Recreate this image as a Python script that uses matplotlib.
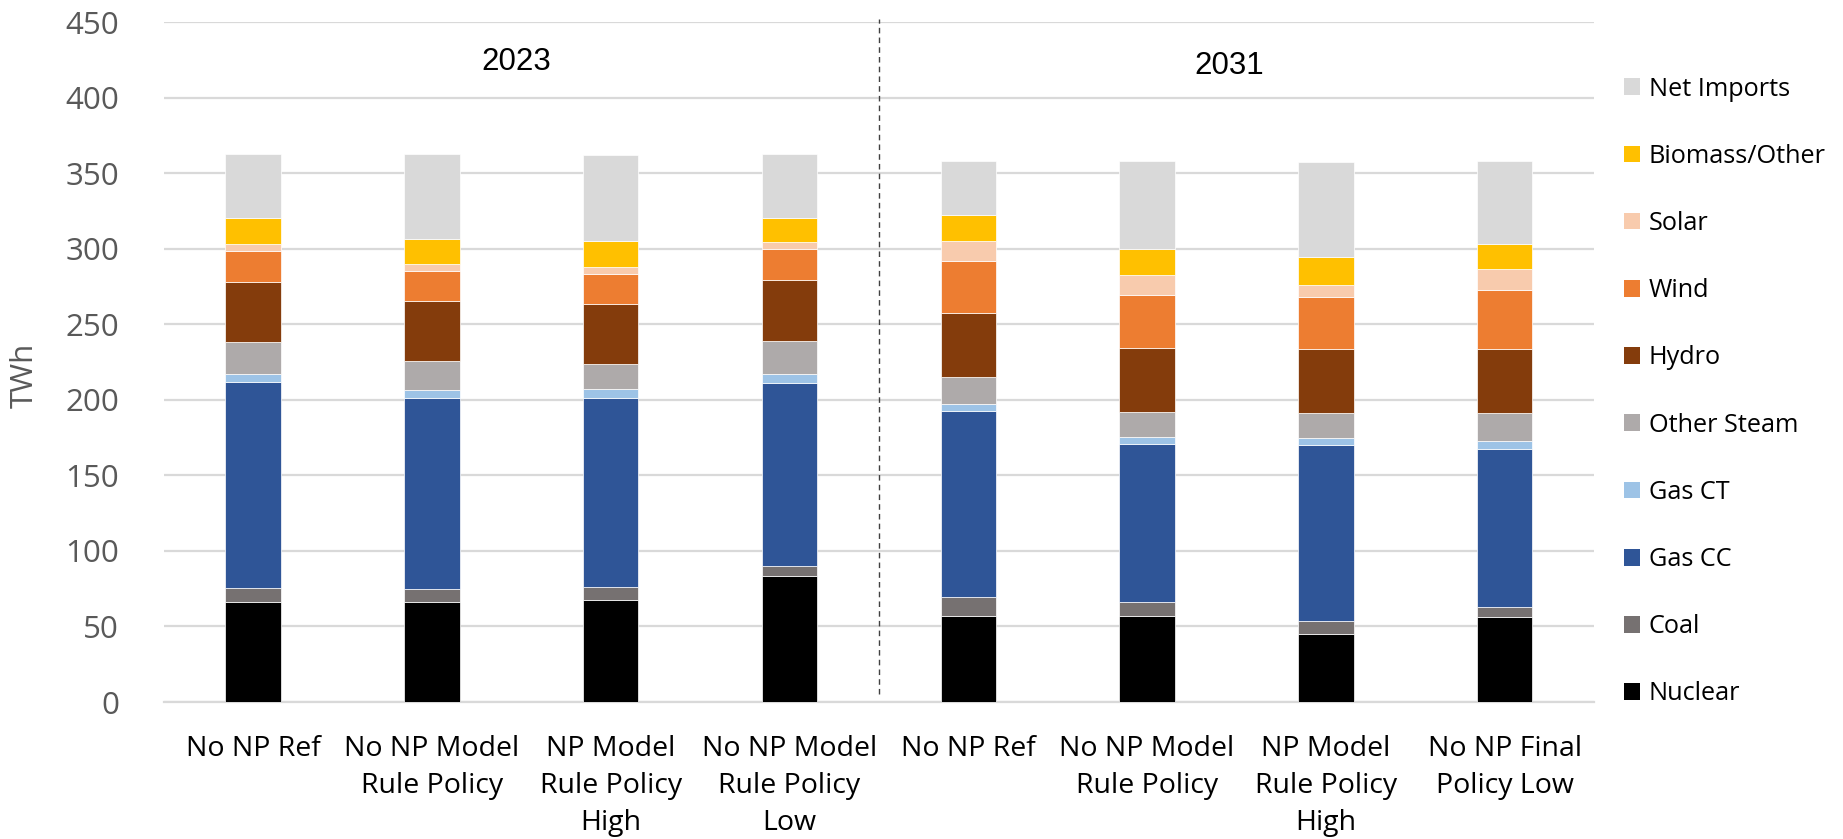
import matplotlib
matplotlib.use("Agg")
import matplotlib.pyplot as plt
from matplotlib.patches import Patch
import numpy as np

# Scenario categories (x axis)
categories = [
    "No NP Ref", "No NP Model\nRule Policy", "NP Model\nRule Policy\nHigh",
    "No NP Model\nRule Policy\nLow",
    "No NP Ref", "No NP Model\nRule Policy", "NP Model\nRule Policy\nHigh",
    "No NP Final\nPolicy Low",
]
year_labels = ["2023", "2031"]

# Generation by resource (TWh), stacked bottom to top
nuclear      = [66.4, 66.4, 67.3, 83.6, 57.1, 57.1, 44.8, 56.5]
coal         = [9.0, 8.4, 8.8, 6.4, 12.6, 8.9, 8.6, 6.6]
gas_cc       = [136.2, 126.6, 125.3, 121.1, 122.9, 104.7, 116.7, 104.5]
gas_ct       = [5.3, 5.1, 5.7, 5.8, 4.6, 4.5, 4.6, 5.1]
other_steam  = [21.5, 19.2, 16.8, 22.0, 17.7, 16.7, 16.6, 18.6]
hydro        = [39.8, 39.7, 39.3, 40.2, 42.5, 42.6, 42.3, 42.5]
wind         = [20.4, 19.6, 20.1, 20.5, 34.4, 34.8, 34.4, 38.9]
solar        = [4.6, 4.9, 4.8, 4.8, 13.5, 13.3, 7.8, 13.8]
biomass      = [16.8, 16.5, 16.8, 16.1, 17.0, 17.2, 19.0, 16.6]
net_imports  = [42.8, 56.0, 57.1, 42.2, 35.5, 58.2, 62.4, 54.9]

series_names = ["Nuclear", "Coal", "Gas CC", "Gas CT", "Other Steam", "Hydro",
                "Wind", "Solar", "Biomass/Other", "Net Imports"]
series_values = [nuclear, coal, gas_cc, gas_ct, other_steam, hydro,
                 wind, solar, biomass, net_imports]
series_colors = ["#000000", "#767171", "#2F5597", "#9DC3E6", "#AEAAAA",
                 "#843C0C", "#ED7D31", "#F8CBAD", "#FFC000", "#D9D9D9"]

W, H = 1843, 839
fig = plt.figure(figsize=(W / 100, H / 100), dpi=100)
ax = fig.add_axes([163.7 / W, 1 - 702 / H, (1594 - 163.7) / W, (702 - 22) / H])

x = np.arange(len(categories))
bottom = np.zeros(len(categories))
for name, vals, col in zip(series_names, series_values, series_colors):
    vals = np.array(vals)
    ax.bar(x, vals, width=0.31, bottom=bottom, color=col, label=name,
           edgecolor="white", linewidth=0.5, zorder=3)
    bottom += vals

ax.set_xlim(-0.5, len(categories) - 0.5)
ax.set_ylim(0, 450)
ax.set_yticks(np.arange(0, 451, 50))
ax.yaxis.grid(True, color="#D9D9D9", linewidth=1.6, zorder=0)
ax.set_axisbelow(True)
for side in ["top", "right", "left"]:
    ax.spines[side].set_visible(False)
ax.spines["bottom"].set_color("#D9D9D9")
ax.spines["bottom"].set_linewidth(1.6)
ax.tick_params(axis="both", length=0)
ax.tick_params(axis="y", pad=32, labelsize=22.5, labelcolor="#595959")
ax.set_yticklabels([str(v) for v in range(0, 451, 50)], fontfamily="Open Sans")
ax.set_xticks(x)
ax.set_xticklabels(categories, fontfamily="Open Sans", fontsize=20.5,
                   linespacing=1.42, color="black")
ax.tick_params(axis="x", pad=24)

fig.text(25 / W, 1 - 375 / H, "TWh", rotation=90, ha="center", va="center",
         fontsize=22.5, color="#595959", fontfamily="Open Sans")

# Divider between the two study years
ax.plot([3.5, 3.5], [5, 452], linestyle=(0, (4, 3)), color="#404040",
        linewidth=1.0, clip_on=False, zorder=4)

ax.text(1.47, 423.5, year_labels[0], ha="center", va="center",
        fontsize=22.5, fontfamily="Liberation Sans", color="black")
ax.text(5.46, 421.0, year_labels[1], ha="center", va="center",
        fontsize=22.5, fontfamily="Liberation Sans", color="black")

handles = [Patch(facecolor=c, edgecolor="none", label=n)
           for n, c in zip(series_names, series_colors)][::-1]
leg = fig.legend(handles=handles, loc="center left",
                 bbox_to_anchor=(1624 / W, 1 - 391.5 / H),
                 frameon=False, borderpad=0, borderaxespad=0,
                 handlelength=0.64, handleheight=0.64, handletextpad=0.33,
                 labelspacing=1.67,
                 prop={"family": "Open Sans", "size": 18.2})

fig.savefig("out.png", dpi=100)
